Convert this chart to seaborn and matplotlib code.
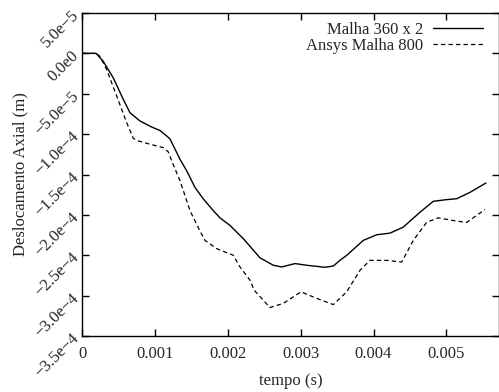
import numpy as np
import pandas as pd
import matplotlib
matplotlib.use("Agg")
import matplotlib.pyplot as plt
import seaborn as sns

# Data (time in ms, displacement in 1e-5 m)
t_malha = [0, 0.19, 0.288, 0.426, 0.563, 0.655, 0.793, 0.953, 1.067, 1.159, 1.205, 1.342, 1.434,
           1.548, 1.662, 1.799, 1.891, 2.029, 2.212, 2.441, 2.624, 2.739, 2.922, 3.082, 3.334,
           3.448, 3.540, 3.632, 3.860, 4.044, 4.227, 4.409, 4.639, 4.821, 5.005, 5.143, 5.326, 5.545]
u_malha = [0, 0, -0.99, -3.04, -5.70, -7.35, -8.38, -9.12, -9.55, -10.23, -10.6, -13.12, -14.54,
           -16.6, -18.02, -19.47, -20.37, -21.31, -22.95, -25.32, -26.24, -26.45, -26.03, -26.24, -26.49,
           -26.33, -25.63, -25.01, -23.16, -22.46, -22.26, -21.52, -19.67, -18.32, -18.11, -18.0, -17.21, -16.05]

t_ansys = [0, 0.19, 0.243, 0.335, 0.473, 0.610, 0.701, 0.769, 0.930, 1.113, 1.181, 1.228, 1.342,
           1.479, 1.616, 1.685, 1.846, 2.074, 2.166, 2.304, 2.36, 2.578, 2.761, 3.004, 3.220, 3.448,
           3.632, 3.815, 3.952, 4.181, 4.387, 4.547, 4.731, 4.890, 5.096, 5.280, 5.531]
u_ansys = [0, 0, -0.37, -2.01, -5.30, -8.59, -10.53, -10.84, -11.25, -11.67, -12.2, -13.31, -15.77,
           -19.47, -21.99, -23.16, -24.18, -25.0, -26.45, -28.09, -29.32, -31.48, -30.96, -29.53, -30.34, -31.11,
           -29.53, -26.86, -25.63, -25.63, -25.84, -23.16, -20.91, -20.37, -20.70, -20.94, -19.34]

labels = ["Malha 360 x 2", "Ansys Malha 800"]
xticks = [0, 0.001, 0.002, 0.003, 0.004, 0.005]
xticklabels = ["0", "0.001", "0.002", "0.003", "0.004", "0.005"]
yticks = [-3.5e-4, -3.0e-4, -2.5e-4, -2.0e-4, -1.5e-4, -1.0e-4, -5.0e-5, 0.0, 5.0e-5]
yticklabels = ["\u22123.5e\u22124", "\u22123.0e\u22124", "\u22122.5e\u22124", "\u22122.0e\u22124",
               "\u22121.5e\u22124", "\u22121.0e\u22124", "\u22125.0e\u22125", "0.0e0", "5.0e\u22125"]

sns.set_style("ticks")
plt.rcParams['font.family'] = ['Liberation Serif', 'DejaVu Serif']
plt.rcParams['font.size'] = 12

df1 = pd.DataFrame({"t": np.array(t_malha) * 1e-3, "u": np.array(u_malha) * 1e-5})
df2 = pd.DataFrame({"t": np.array(t_ansys) * 1e-3, "u": np.array(u_ansys) * 1e-5})

fig = plt.figure(figsize=(4.99, 3.92), dpi=100)
ax = fig.add_axes([82.3 / 499, 56 / 392, (499 - 82.3) / 499, 323 / 392])

sns.lineplot(data=df1, x="t", y="u", ax=ax, color="black", linewidth=1.0, sort=False,
             estimator=None, label=labels[0])
sns.lineplot(data=df2, x="t", y="u", ax=ax, color="black", linewidth=0.9, sort=False,
             estimator=None, label=labels[1], dashes=False)
ax.lines[1].set_dashes([3.5, 2.5])

ax.set_xlim(0, (499 - 82.3) / 72.8 * 1e-3)
ax.set_ylim(-3.5e-4, 5e-5)
ax.set_xticks(xticks)
ax.set_xticklabels(xticklabels)
ax.set_yticks(yticks)
ax.set_yticklabels(yticklabels, rotation=45, ha="right", va="center", rotation_mode="anchor")

ax.tick_params(direction="in", length=5, width=1.0, top=True, right=True, labelsize=12, color="black")
ax.tick_params(axis="x", pad=7)
ax.tick_params(axis="y", pad=4)
for s in ax.spines.values():
    s.set_visible(True)
    s.set_linewidth(1.0)
    s.set_color("black")

ax.set_xlabel("tempo (s)", fontsize=12)
ax.set_ylabel("Deslocamento Axial (m)", fontsize=12)
ax.xaxis.set_label_coords(0.5, -0.115)
ax.yaxis.set_label_coords(-0.13, 0.5)

leg = ax.legend(loc="upper right", bbox_to_anchor=(483 / 499, 1 - 22 / 392),
                bbox_transform=fig.transFigure, frameon=False, markerfirst=False,
                handlelength=3.0, handletextpad=0.6, labelspacing=-0.03,
                borderpad=0, borderaxespad=0, fontsize=12)
for h in leg.get_lines():
    h.set_color("black")
leg.get_lines()[1].set_dashes([3.5, 2.5])

fig.savefig("out.png", dpi=100)
